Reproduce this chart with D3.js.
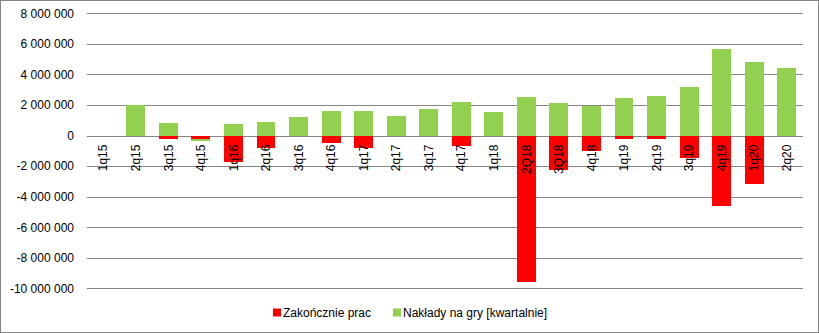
<!DOCTYPE html>
<html>
<head>
<meta charset="utf-8">
<script src="https://cdn.jsdelivr.net/npm/d3@7"></script>
<style>
  html, body { margin: 0; padding: 0; background: #fff; }
  svg { display: block; font-family: "Liberation Sans", Arial, sans-serif; }
</style>
</head>
<body>
<svg id="chart" width="819" height="333"></svg>
<script>
const categories = ["1q15","2q15","3q15","4q15","1q16","2q16","3q16","4q16","1q17","2q17","3q17","4q17","1q18","2Q18","3Q18","4q18","1q19","2q19","3q19","4q19","1q20","2q20"];
const zakonczenie = [0, 0, -240000, -240000, -1710000, -810000, 0, -480000, -810000, 0, 0, -680000, 0, -9590000, -2270000, -1010000, -220000, -220000, -1470000, -4610000, -3170000, 0];
const naklady = [0, 1980000, 810000, -130000, 740000, 870000, 1200000, 1590000, 1590000, 1260000, 1720000, 2180000, 1530000, 2510000, 2120000, 1960000, 2440000, 2570000, 3160000, 5650000, 4810000, 4410000];
const yTicks = [-10000000, -8000000, -6000000, -4000000, -2000000, 0, 2000000, 4000000, 6000000, 8000000];
const seriesNames = ["Zakończnie prac", "Nakłady na gry [kwartalnie]"];
const seriesColors = ["#ff0000", "#92d050"];

const W = 819, H = 333;
const plot = { left: 87, right: 803, top: 13.3, bottom: 288.3 };

const svg = d3.select("#chart");
svg.append("rect").attr("x", 0.5).attr("y", 0.5).attr("width", W - 1).attr("height", H - 1)
  .attr("fill", "#fff").attr("stroke", "#868686").attr("stroke-width", 1);

const x = d3.scaleBand().domain(categories).range([plot.left, plot.right])
  .paddingInner(0.42).paddingOuter(0.21);
const y = d3.scaleLinear().domain([-10000000, 8000000]).range([plot.bottom, plot.top]);

const locale = d3.formatLocale({ decimal: ",", thousands: "\u00a0", grouping: [3], currency: ["", ""], minus: "-" });
const fmt = locale.format(",d");

// gridlines + y labels
const yAxis = svg.append("g").attr("transform", `translate(${plot.left},0)`)
  .call(d3.axisLeft(y).tickValues(yTicks).tickSize(-(plot.right - plot.left)).tickPadding(13).tickFormat(fmt));
yAxis.select(".domain").remove();
yAxis.selectAll(".tick line").attr("stroke", "#868686").attr("stroke-width", 1)
  .attr("shape-rendering", "crispEdges");
yAxis.selectAll(".tick text").attr("font-size", 12).attr("fill", "#000")
  .attr("font-family", "'Liberation Sans', Arial, sans-serif");

// stacked bars
const rows = categories.map((c, i) => ({ cat: c, zak: zakonczenie[i], nak: naklady[i] }));
const stack = d3.stack().keys(["zak", "nak"]).offset(d3.stackOffsetDiverging);
const layers = stack(rows);
svg.append("g").selectAll("g").data(layers).join("g")
  .attr("fill", (d, i) => seriesColors[i])
  .selectAll("rect").data(d => d).join("rect")
  .attr("x", d => x(d.data.cat))
  .attr("width", x.bandwidth())
  .attr("y", d => y(Math.max(d[0], d[1])))
  .attr("height", d => Math.abs(y(d[0]) - y(d[1])))
  .attr("shape-rendering", "crispEdges");

// category labels
const xAxis = svg.append("g").attr("transform", `translate(0,${y(0)})`)
  .call(d3.axisBottom(x).tickSize(0));
xAxis.select(".domain").remove();
xAxis.selectAll(".tick text")
  .attr("transform", "rotate(-90)")
  .attr("x", -9).attr("y", 0).attr("dy", "0.35em")
  .attr("text-anchor", "end")
  .attr("font-size", 12).attr("fill", "#000")
  .attr("font-family", "'Liberation Sans', Arial, sans-serif");

// legend
const legendPos = [273, 393];
const lg = svg.append("g");
seriesNames.forEach((name, i) => {
  lg.append("rect").attr("x", legendPos[i]).attr("y", 308.5).attr("width", 8).attr("height", 8)
    .attr("fill", seriesColors[i]);
  lg.append("text").attr("x", legendPos[i] + 10).attr("y", 312.5).attr("dy", "0.35em")
    .attr("font-size", 12).attr("fill", "#000").text(name);
});
</script>
</body>
</html>
